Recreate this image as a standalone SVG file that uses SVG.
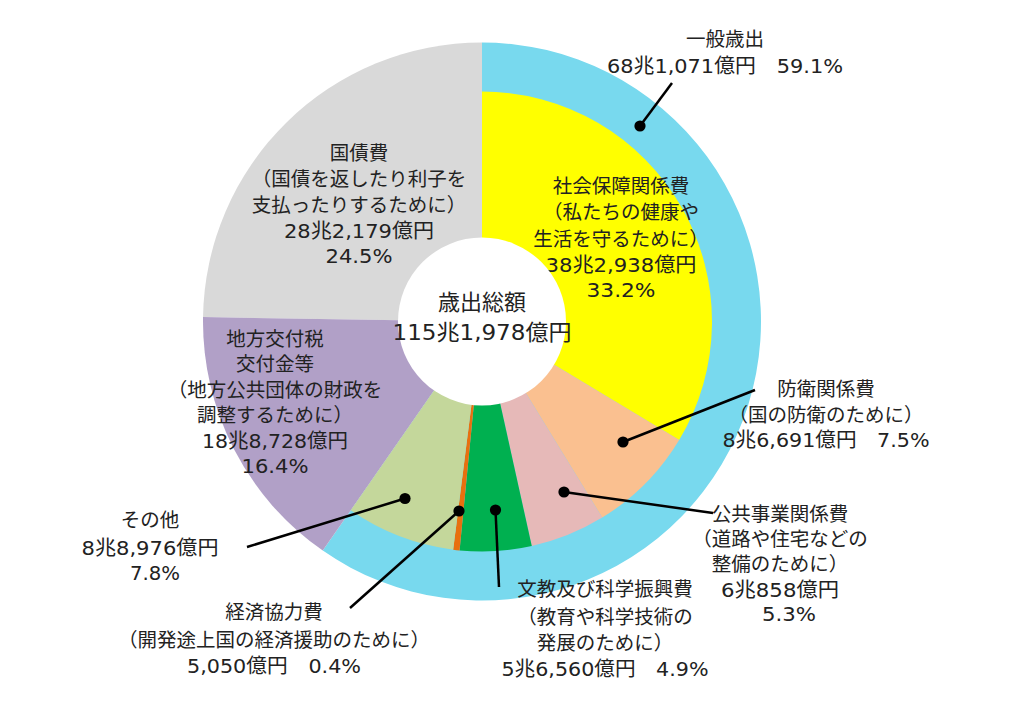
<svg xmlns="http://www.w3.org/2000/svg" width="1024" height="725" viewBox="0 0 1024 725">
<style>
.lbl{font-family:"DejaVu Sans","Noto Sans CJK JP",sans-serif;font-size:19.5px;fill:#222;text-anchor:middle}
.num{font-size:20px}
.ctr{font-size:22px}
.lead{stroke:#000;stroke-width:2.5;fill:none;marker-start:url(#dot)}
</style>
<defs>
<marker id="dot" markerUnits="userSpaceOnUse" markerWidth="12" markerHeight="12" refX="6" refY="6" viewBox="0 0 12 12" overflow="visible"><circle cx="6" cy="6" r="5.6" fill="#000"/></marker>
</defs>
<rect width="1024" height="725" fill="#fff"/>
<g id="general-expenditure">
<path fill="#78D9EE" d="M482,321.5 L482,42.5 A279,279 0 1 1 322.77,550.6 Z"/>
<text class="lbl" x="725" y="46">一般歳出</text>
<text class="lbl num" x="725" y="73" textLength="236" lengthAdjust="spacingAndGlyphs">68兆1,071億円　59.1%</text>
</g>
<g id="national-debt">
<path fill="#D9D9D9" d="M482,321.5 L203.03,317.12 A279,279 0 0 1 482,42.5 Z"/>
<text class="lbl" x="359" y="160">国債費</text>
<text class="lbl" x="359" y="186">（国債を返したり利子を</text>
<text class="lbl" x="359" y="212">支払ったりするために）</text>
<text class="lbl num" x="359" y="238" textLength="150" lengthAdjust="spacingAndGlyphs">28兆2,179億円</text>
<text class="lbl num" x="359" y="263" textLength="67" lengthAdjust="spacingAndGlyphs">24.5%</text>
</g>
<g id="local-allocation">
<path fill="#B1A0C7" d="M482,321.5 L322.77,550.6 A279,279 0 0 1 203.03,317.12 Z"/>
<text class="lbl" x="275" y="345.5">地方交付税</text>
<text class="lbl" x="275" y="371">交付金等</text>
<text class="lbl" x="275" y="396.5">（地方公共団体の財政を</text>
<text class="lbl" x="275" y="422">調整するために）</text>
<text class="lbl num" x="275" y="447.5" textLength="146" lengthAdjust="spacingAndGlyphs">18兆8,728億円</text>
<text class="lbl num" x="275" y="473" textLength="67" lengthAdjust="spacingAndGlyphs">16.4%</text>
</g>
<g id="social-security">
<path fill="#FFFF00" d="M482,321.5 L482,91.5 A230,230 0 0 1 679.15,439.96 Z"/>
<text class="lbl" x="621" y="193">社会保障関係費</text>
<text class="lbl" x="621" y="219">（私たちの健康や</text>
<text class="lbl" x="621" y="246">生活を守るために）</text>
<text class="lbl num" x="621" y="272" textLength="151" lengthAdjust="spacingAndGlyphs">38兆2,938億円</text>
<text class="lbl num" x="621" y="297" textLength="69" lengthAdjust="spacingAndGlyphs">33.2%</text>
</g>
<g id="defense">
<path fill="#FAC090" d="M482,321.5 L679.15,439.96 A230,230 0 0 1 602.18,517.61 Z"/>
<text class="lbl" x="826" y="396">防衛関係費</text>
<text class="lbl" x="826" y="421.5">（国の防衛のために）</text>
<text class="lbl num" x="826" y="447" textLength="207" lengthAdjust="spacingAndGlyphs">8兆6,691億円　7.5%</text>
</g>
<g id="public-works">
<path fill="#E6B9B8" d="M482,321.5 L602.18,517.61 A230,230 0 0 1 531.78,546.05 Z"/>
<text class="lbl" x="780" y="520.5">公共事業関係費</text>
<text class="lbl" x="780" y="545.5">（道路や住宅などの</text>
<text class="lbl" x="780" y="570.5">整備のために）</text>
<text class="lbl num" x="780" y="596.5" textLength="118" lengthAdjust="spacingAndGlyphs">6兆858億円</text>
<text class="lbl num" x="789" y="621" textLength="54" lengthAdjust="spacingAndGlyphs">5.3%</text>
</g>
<g id="education-science">
<path fill="#00B050" d="M482,321.5 L531.78,546.05 A230,230 0 0 1 459.56,550.4 Z"/>
<text class="lbl" x="605" y="596">文教及び科学振興費</text>
<text class="lbl" x="605" y="623.5">（教育や科学技術の</text>
<text class="lbl" x="605" y="650">発展のために）</text>
<text class="lbl num" x="605" y="676" textLength="207" lengthAdjust="spacingAndGlyphs">5兆6,560億円　4.9%</text>
</g>
<g id="economic-cooperation">
<path fill="#E8700F" d="M482,321.5 L459.56,550.4 A230,230 0 0 1 453.17,549.69 Z"/>
<text class="lbl" x="274" y="618.5">経済協力費</text>
<text class="lbl" x="274" y="646.5">（開発途上国の経済援助のために）</text>
<text class="lbl num" x="274" y="673" textLength="174" lengthAdjust="spacingAndGlyphs">5,050億円　0.4%</text>
</g>
<g id="others">
<path fill="#C4D79B" d="M482,321.5 L453.17,549.69 A230,230 0 0 1 350.74,510.36 Z"/>
<text class="lbl" x="150" y="526.5">その他</text>
<text class="lbl num" x="150" y="555" textLength="137" lengthAdjust="spacingAndGlyphs">8兆8,976億円</text>
<text class="lbl num" x="155" y="580" textLength="50" lengthAdjust="spacingAndGlyphs">7.8%</text>
</g>
<g id="total">
<circle cx="482" cy="321.5" r="84" fill="#fff"/>
<text class="lbl ctr" x="482" y="310">歳出総額</text>
<text class="lbl ctr" x="482" y="340" textLength="179" lengthAdjust="spacingAndGlyphs">115兆1,978億円</text>
</g>
<g id="connectors">
<line class="lead" x1="640" y1="126" x2="672" y2="83"/>
<line class="lead" x1="623" y1="442" x2="755" y2="390"/>
<line class="lead" x1="564" y1="492" x2="713" y2="513"/>
<line class="lead" x1="495.5" y1="510" x2="499" y2="587"/>
<line class="lead" x1="459" y1="511" x2="350" y2="608"/>
<line class="lead" x1="405" y1="498.5" x2="247" y2="547"/>
</g>
</svg>
